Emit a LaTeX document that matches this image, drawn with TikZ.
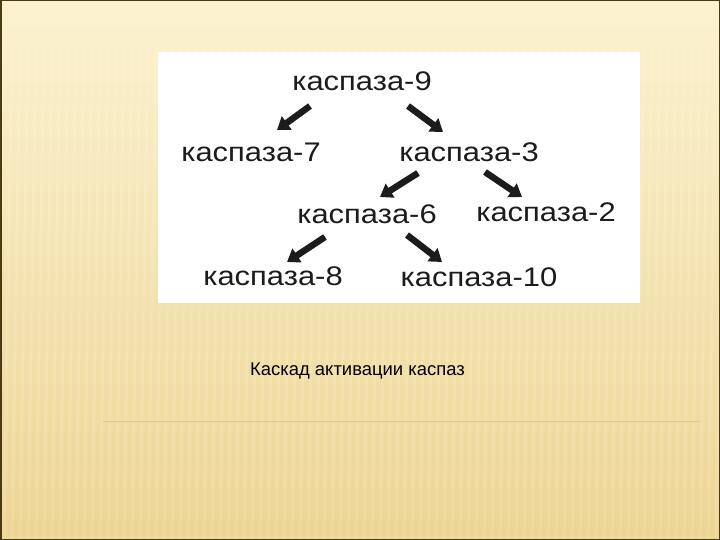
\documentclass[tikz,border=0pt]{standalone}
\usepackage{fontspec}
\setmainfont{Liberation Sans}
\usetikzlibrary{arrows.meta}
\definecolor{slidetop}{HTML}{FCF2D0}
\definecolor{slidebot}{HTML}{EDD593}
\definecolor{slideframe}{HTML}{4B3B12}
\definecolor{sliderule}{HTML}{E0C88A}
\definecolor{ink}{HTML}{1C1C1C}
\begin{document}
\begin{tikzpicture}
[x=1bp, y=-1bp,
 casp/.style={inner sep=0pt, text=ink, xscale=1.15, font=\fontsize{27}{27}\selectfont},
 arr/.style={-{Triangle[length=12bp,width=16bp]}, line width=6.5bp, draw=ink},
 capt/.style={inner sep=0pt, anchor=base west, font=\fontsize{18.5}{20}\selectfont}]
\useasboundingbox (0,0) rectangle (720,540);
% slide background
\shade[top color=slidetop, bottom color=slidebot] (0,0) rectangle (720,540);
\foreach \sx in {-20,-12,...,720}
  \draw[white, opacity=0.13, line width=3bp] (\sx+8,45) -- (\sx,540);
\draw[sliderule, line width=1bp] (103,421) -- (700,421);
\draw[slideframe, line width=1.5bp] (0.75,0.75) rectangle (719.25,539.25);
% picture
\fill[white] (158,52) rectangle (640,303);
\node[casp] (k9) at (362,81) {каспаза-9};
\node[casp] (k7) at (251,152) {каспаза-7};
\node[casp] (k3) at (469,152) {каспаза-3};
\node[casp] (k6) at (367,214) {каспаза-6};
\node[casp] (k2) at (546,212) {каспаза-2};
\node[casp] (k8) at (273,276) {каспаза-8};
\node[casp] (k10) at (479,277) {каспаза-10};
\draw[arr] ([shift={(-52,25)}]k9.center) -- ([shift={(26,-22)}]k7.center);
\draw[arr] ([shift={(46,25)}]k9.center) -- ([shift={(-26,-20)}]k3.center);
\draw[arr] ([shift={(-51,21)}]k3.center) -- ([shift={(13,-17)}]k6.center);
\draw[arr] ([shift={(16,20)}]k3.center) -- ([shift={(-24,-15)}]k2.center);
\draw[arr] ([shift={(-42,23)}]k6.center) -- ([shift={(14,-14)}]k8.center);
\draw[arr] ([shift={(40,21)}]k6.center) -- ([shift={(-37,-15)}]k10.center);
% caption
\node[capt] (cap) at (250,375) {Каскад активации каспаз};
\end{tikzpicture}
\end{document}
